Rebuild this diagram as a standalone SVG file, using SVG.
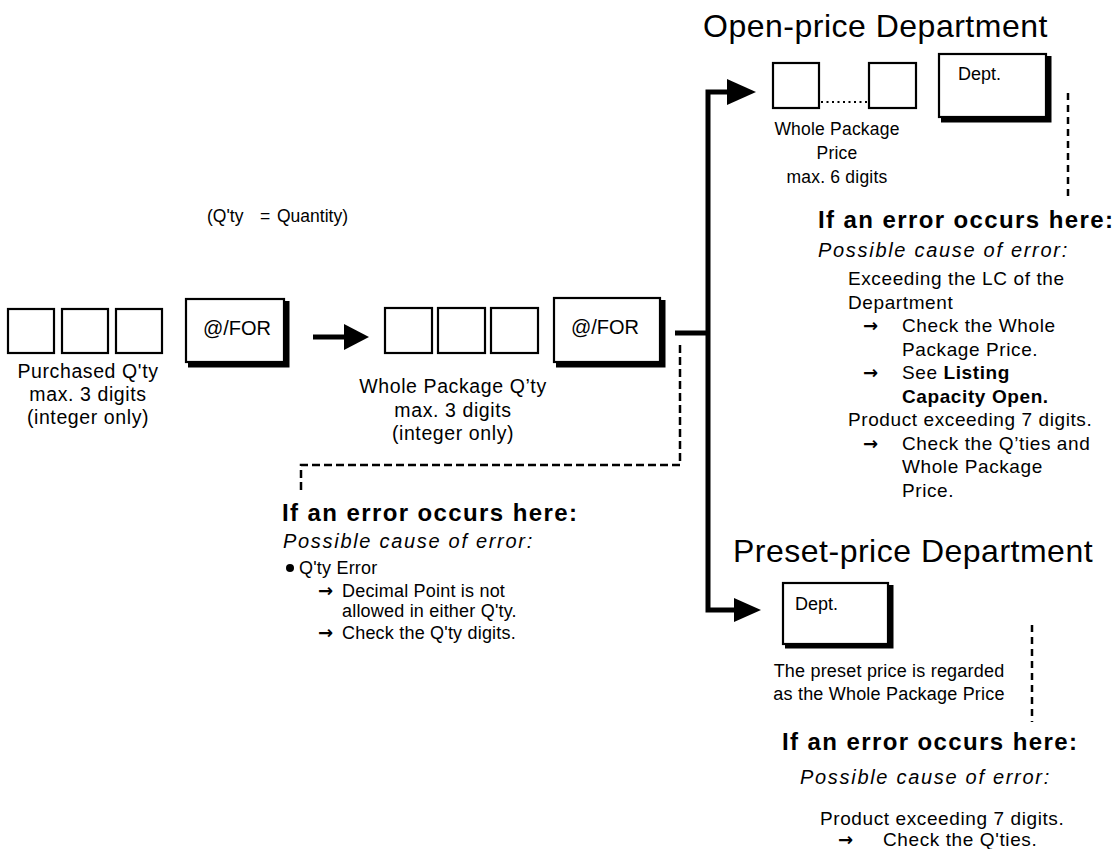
<svg xmlns="http://www.w3.org/2000/svg" width="1117" height="849" viewBox="0 0 1117 849">
<style>
text{font-family:"Liberation Sans",Arial,sans-serif;fill:#000}
.lbl{font-size:19.5px;letter-spacing:0.6px;text-anchor:middle}
.lbls{font-size:17.5px;letter-spacing:0.2px;text-anchor:middle}
.key{font-size:20px}
.dept{font-size:18px}
.h2{font-size:32px;letter-spacing:0.5px}
.err{font-size:24px;font-weight:bold;letter-spacing:1.4px}
.cause{font-size:20px;font-style:italic;letter-spacing:1.7px}
.body{font-size:19px;letter-spacing:0.6px}
.lb{font-size:18px;letter-spacing:0.2px}
.arr{font-family:"Noto Sans","DejaVu Sans",sans-serif;font-size:18px;font-weight:bold}
.b{font-weight:bold}
.box{fill:#fff;stroke:#000;stroke-width:2.2}
.sh{fill:none;stroke:#000;stroke-width:5}
.solid{fill:none;stroke:#000;stroke-width:5}
.dash{fill:none;stroke:#000;stroke-width:2.5;stroke-dasharray:8 4}
.vdash{fill:none;stroke:#000;stroke-width:2.5;stroke-dasharray:7 5}
.dot{fill:none;stroke:#000;stroke-width:2.2;stroke-dasharray:2 3.5}
</style>
<rect width="1117" height="849" fill="#fff"/>

<text x="207" y="222" style="font-size:17.5px"><tspan>(Q'ty</tspan><tspan x="260">=</tspan><tspan x="277">Quantity)</tspan></text>

<g id="purchased-qty">
<rect class="box" x="8" y="309" width="46" height="44"/>
<rect class="box" x="62" y="309" width="46" height="44"/>
<rect class="box" x="116" y="309" width="46" height="44"/>
<text class="lbl" x="88" y="378">Purchased Q'ty</text>
<text class="lbl" x="88" y="401">max. 3 digits</text>
<text class="lbl" x="88" y="424">(integer only)</text>
</g>

<g id="for-key-1">
<rect class="box" x="186" y="299" width="98" height="63"/>
<polyline class="sh" points="287,301 287,365 188,365"/>
<text class="key" x="237" y="335" text-anchor="middle">@/FOR</text>
</g>

<g id="whole-package-qty">
<rect class="box" x="385" y="308" width="47" height="45"/>
<rect class="box" x="438" y="308" width="47" height="45"/>
<rect class="box" x="491" y="308" width="47" height="45"/>
<text class="lbl" x="453" y="393">Whole Package Q’ty</text>
<text class="lbl" x="453" y="417">max. 3 digits</text>
<text class="lbl" x="453" y="440">(integer only)</text>
</g>

<g id="for-key-2">
<rect class="box" x="554" y="298" width="106" height="64"/>
<polyline class="sh" points="663,300 663,365 556,365"/>
<text class="key" x="605" y="334" text-anchor="middle">@/FOR</text>
</g>

<g id="connectors">
<line class="solid" x1="313" y1="337" x2="347" y2="337"/>
<polygon points="344,324 369,337 344,350"/>
<line class="solid" x1="675" y1="333" x2="708" y2="333"/>
<polyline class="solid" points="730,92 708,92 708,610 737,610" stroke-linejoin="miter"/>
<polygon points="727,79 756,92 727,105"/>
<polygon points="734,598 761,610 734,622"/>
<polyline class="dash" points="680,345 680,465 301,465 301,493"/>
<line class="dot" x1="821" y1="102" x2="868" y2="102"/>
<line class="vdash" x1="1068" y1="93" x2="1068" y2="197"/>
<line class="vdash" x1="1032" y1="625" x2="1032" y2="722"/>
</g>

<g id="qty-error">
<text class="err" x="282" y="521">If an error occurs here:</text>
<text class="cause" x="283" y="548">Possible cause of error:</text>
<circle cx="290" cy="568" r="4"/>
<text class="lb" x="299" y="574">Q'ty Error</text>
<text class="arr" x="318" y="597">→</text>
<text class="lb" x="342" y="597">Decimal Point is not</text>
<text class="lb" x="342" y="617">allowed in either Q'ty.</text>
<text class="arr" x="318" y="639">→</text>
<text class="lb" x="342" y="639">Check the Q'ty digits.</text>
</g>

<g id="open-price-department">
<text class="h2" x="703" y="37">Open-price Department</text>
<rect class="box" x="773" y="63" width="46" height="45"/>
<rect class="box" x="869" y="63" width="47" height="45"/>
<rect class="box" x="939" y="54" width="107" height="63"/>
<polyline class="sh" points="1049,56 1049,120 941,120"/>
<text class="dept" x="958" y="80">Dept.</text>
<text class="lbls" x="837" y="135">Whole Package</text>
<text class="lbls" x="837" y="159">Price</text>
<text class="lbls" x="837" y="183">max. 6 digits</text>
</g>

<g id="open-price-error">
<text class="err" x="818" y="228">If an error occurs here:</text>
<text class="cause" x="818" y="257">Possible cause of error:</text>
<text class="body" x="848" y="285">Exceeding the LC of the</text>
<text class="body" x="848" y="308.5">Department</text>
<text class="arr" x="863" y="332">→</text>
<text class="body" x="902" y="332">Check the Whole</text>
<text class="body" x="902" y="355.5">Package Price.</text>
<text class="arr" x="863" y="379">→</text>
<text class="body" x="902" y="379">See <tspan class="b">Listing</tspan></text>
<text class="body b" x="902" y="402.5">Capacity Open.</text>
<text class="body" x="848" y="426">Product exceeding 7 digits.</text>
<text class="arr" x="863" y="449.5">→</text>
<text class="body" x="902" y="449.5">Check the Q’ties and</text>
<text class="body" x="902" y="473">Whole Package</text>
<text class="body" x="902" y="496.5">Price.</text>
</g>

<g id="preset-price-department">
<text class="h2" x="733" y="562">Preset-price Department</text>
<rect class="box" x="783" y="583" width="105" height="61"/>
<polyline class="sh" points="891,585 891,646 785,646"/>
<text class="dept" x="795" y="610">Dept.</text>
<text class="lb" x="889" y="677" text-anchor="middle">The preset price is regarded</text>
<text class="lb" x="889" y="700" text-anchor="middle">as the Whole Package Price</text>
</g>

<g id="preset-price-error">
<text class="err" x="782" y="750">If an error occurs here:</text>
<text class="cause" x="800" y="784">Possible cause of error:</text>
<text class="body" x="820" y="825">Product exceeding 7 digits.</text>
<text class="arr" x="838" y="846">→</text>
<text class="body" x="883" y="846">Check the Q'ties.</text>
</g>
</svg>
